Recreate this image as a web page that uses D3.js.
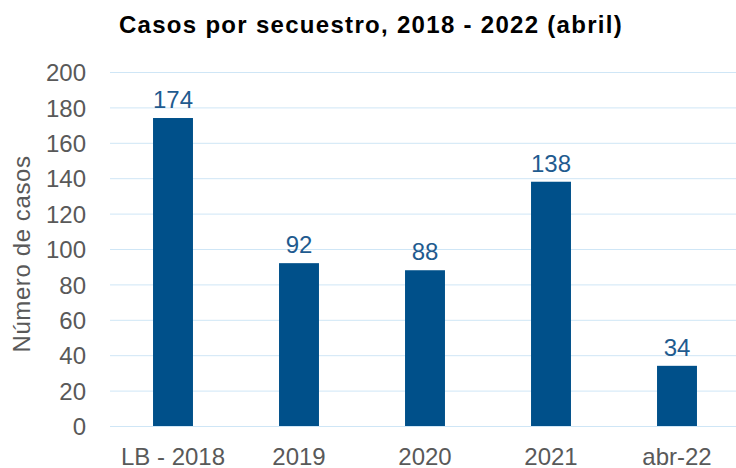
<!DOCTYPE html>
<html>
<head>
<meta charset="utf-8">
<script src="https://cdn.jsdelivr.net/npm/d3@7"></script>
<style>
  body { margin: 0; background: #fff; }
  text { font-family: "Liberation Sans", Arial, Helvetica, sans-serif; }
</style>
</head>
<body>
<svg width="736" height="468"></svg>
<script>
const CATEGORIES = ['LB - 2018', '2019', '2020', '2021', 'abr-22'];
const VALUES = [174, 92, 88, 138, 34];
const Y_TICKS = [0, 20, 40, 60, 80, 100, 120, 140, 160, 180, 200];

const PLOT = { left: 110, right: 740, top: 72, bottom: 426 };

const svg = d3.select('svg');

const x = d3.scaleBand().domain(CATEGORIES).range([PLOT.left, PLOT.right]).paddingInner(0.683).paddingOuter(0.3415);
const y = d3.scaleLinear().domain([0, 200]).range([PLOT.bottom, PLOT.top]);

// gridlines
svg.append('g')
  .selectAll('line')
  .data(Y_TICKS)
  .enter()
  .append('line')
  .attr('x1', PLOT.left)
  .attr('x2', 736)
  .attr('y1', d => y(d) + 0.5)
  .attr('y2', d => y(d) + 0.5)
  .attr('stroke', '#cfe6f6')
  .attr('stroke-width', 1);

// y axis labels
const yAxis = svg.append('g')
  .attr('transform', 'translate(86,0)')
  .call(d3.axisLeft(y).tickValues(Y_TICKS).tickSize(0).tickPadding(0));
yAxis.select('.domain').remove();
yAxis.selectAll('text')
  .attr('font-size', 24)
  .attr('fill', '#595959')
  .attr('dy', '0.36em');

// x axis labels
const xAxis = svg.append('g')
  .attr('transform', `translate(0, ${PLOT.bottom})`)
  .call(d3.axisBottom(x).tickSize(0).tickPadding(0));
xAxis.select('.domain').remove();
xAxis.selectAll('text')
  .attr('font-size', 24)
  .attr('fill', '#595959')
  .attr('dy', '0')
  .attr('y', 39);

// bars
svg.append('g')
  .selectAll('rect')
  .data(VALUES)
  .enter()
  .append('rect')
  .attr('x', (d, i) => x(CATEGORIES[i]))
  .attr('y', d => y(d))
  .attr('width', x.bandwidth())
  .attr('height', d => PLOT.bottom - y(d))
  .attr('fill', '#00508a');

// value labels
svg.append('g')
  .selectAll('text')
  .data(VALUES)
  .enter()
  .append('text')
  .text(d => d)
  .attr('x', (d, i) => x(CATEGORIES[i]) + x.bandwidth() / 2)
  .attr('y', d => y(d) - 10)
  .attr('text-anchor', 'middle')
  .attr('font-size', 24)
  .attr('fill', '#1f5b8f');

// title
svg.append('text')
  .text('Casos por secuestro, 2018 - 2022 (abril)')
  .attr('x', 371)
  .attr('y', 33)
  .attr('text-anchor', 'middle')
  .attr('font-size', 24)
  .attr('font-weight', 'bold')
  .attr('letter-spacing', 1.3)
  .attr('fill', '#000');

// y axis title
svg.append('text')
  .text('Número de casos')
  .attr('transform', 'translate(30, 254) rotate(-90)')
  .attr('text-anchor', 'middle')
  .attr('font-size', 24)
  .attr('letter-spacing', 0.6)
  .attr('fill', '#595959');
</script>
</body>
</html>
